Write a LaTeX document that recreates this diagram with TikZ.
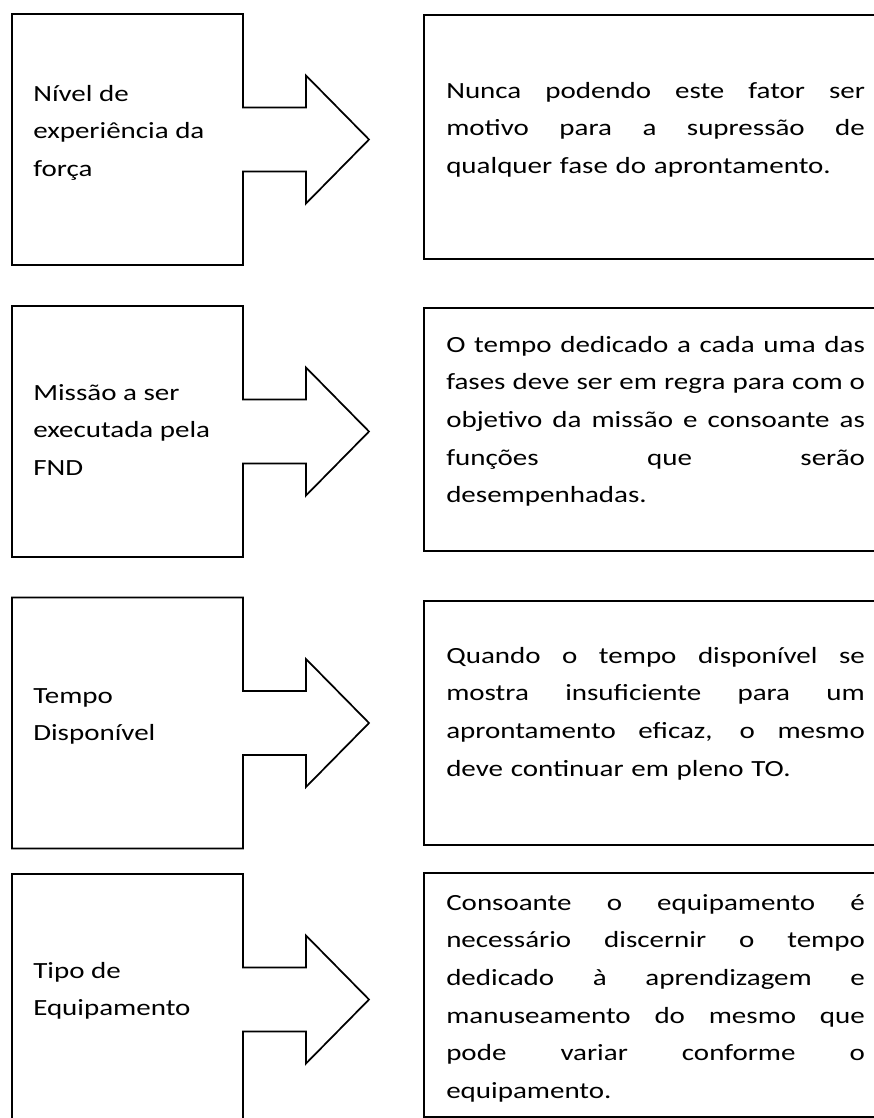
\documentclass[tikz,border=0pt]{standalone}
\usepackage{fontspec}
\setmainfont[FakeStretch=1.25]{Carlito}
\newcommand{\jl}[1]{\makebox[314pt][s]{\spaceskip=0.25em plus 1fil\relax #1}}
\newcommand{\st}{\rule{0pt}{15pt}}
\tikzset{
  callout/.style={draw=black, line width=1.3pt, line join=miter},
  infobox/.style={draw=black, line width=1.6pt},
  txtbase/.style={anchor=north west, inner sep=0pt, align=left,
    font=\fontsize{17.4pt}{28.2pt}\selectfont},
  lefttxt/.style={txtbase},
  righttxt/.style={txtbase, text width=314pt}
}
\begin{document}
\begin{tikzpicture}[x=0.75pt,y=-0.75pt]
\fill[white] (0,0) rectangle (874,1118);
\clip (0,0) rectangle (874,1118);
% arrow callouts (left)
\foreach \c in {139.5,431.5,723,999.5}{
  \draw[callout] (12,\c-125.5) -- (243,\c-125.5) -- (243,\c-32) -- (306,\c-32)
    -- (306,\c-64) -- (369,\c) -- (306,\c+64) -- (306,\c+32) -- (243,\c+32)
    -- (243,\c+125.5) -- (12,\c+125.5) -- cycle;
}
% right boxes
\draw[infobox] (424,15) rectangle (880,259);
\draw[infobox] (424,308) rectangle (880,551);
\draw[infobox] (424,601) rectangle (880,845);
\draw[infobox] (424,873) rectangle (880,1117);
% left texts
\node[lefttxt] (l1) at (33,81) {\st Nível de\\\st experiência da\\\st força};
\node[lefttxt] (l2) at (33,380) {\st Missão a ser\\\st executada pela\\\st FND};
\node[lefttxt] (l3) at (33,683) {\st Tempo\\\st Disponível};
\node[lefttxt] (l4) at (33,958) {\st Tipo de\\\st Equipamento};
% right texts
\node[righttxt] (r1) at (446,78) {\jl{\st Nunca podendo este fator ser}\\\jl{\st motivo para a supressão de}\\\st qualquer fase do aprontamento.};
\node[righttxt] (r2) at (446,332) {\jl{\st O tempo dedicado a cada uma das}\\\jl{\st fases deve ser em regra para com o}\\\jl{\st objetivo da missão e consoante as}\\\jl{\st funções que serão}\\\st desempenhadas.};
\node[righttxt] (r3) at (446,643) {\jl{\st Quando o tempo disponível se}\\\jl{\st mostra insuficiente para um}\\\jl{\st aprontamento eficaz, o mesmo}\\\st deve continuar em pleno TO.};
\node[righttxt] (r4) at (446,890) {\jl{\st Consoante o equipamento é}\\\jl{\st necessário discernir o tempo}\\\jl{\st dedicado à aprendizagem e}\\\jl{\st manuseamento do mesmo que}\\\jl{\st pode variar conforme o}\\\st equipamento.};
\end{tikzpicture}
\end{document}
